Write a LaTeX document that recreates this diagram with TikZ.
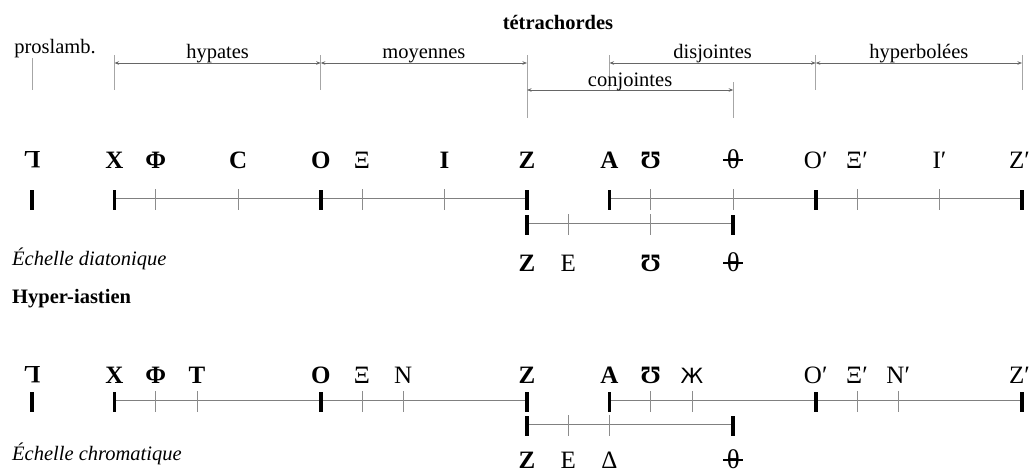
\documentclass[tikz,border=0pt]{standalone}
\usepackage{fontspec}
\usepackage{graphicx}
\setmainfont{Liberation Serif}
\newfontfamily\dejavu{DejaVu Sans}
\usetikzlibrary{arrows.meta,calc}
\newcommand{\thbar}{\ooalign{\hfil{\fontsize{27}{30}\selectfont θ}\hfil\cr\hfil\rule[0.3em]{0.8em}{0.055em}\hfil\cr}}
\newcommand{\prosl}{\rotatebox[origin=c]{180}{L}}
\newcommand{\zhe}{{\dejavu\fontsize{21}{24}\selectfont Ж}}
\begin{document}
\begin{tikzpicture}[x=1pt,y=-1pt,
  lab/.style={font=\fontsize{20.5}{24}\selectfont, anchor=base, inner sep=0pt},
  labb/.style={font=\fontsize{20.5}{24}\selectfont\bfseries, anchor=base, inner sep=0pt},
  labi/.style={font=\fontsize{20.5}{24}\selectfont\itshape, anchor=base west, inner sep=0pt},
  nb/.style={font=\fontsize{25}{29}\selectfont\bfseries, anchor=base, inner sep=0pt},
  nr/.style={font=\fontsize{25}{29}\selectfont, anchor=base, inner sep=0pt},
  scaleline/.style={draw=black!50, line width=0.8pt},
  majtick/.style={draw=black, line width=3.6pt},
  mintick/.style={draw=black!45, line width=0.7pt},
  brtick/.style={draw=black!35, line width=0.7pt},
  dimarrow/.style={draw=black!60, line width=0.7pt, {Stealth[length=4.5pt,width=3.5pt]}-{Stealth[length=4.5pt,width=3.5pt]}}
]
\useasboundingbox (0,0) rectangle (1029,472);

% ---------- top brackets ----------
\node[labb] (tetra) at (558,29) {tétrachordes};
\node[lab] (prosl) at (55,53) {proslamb.};
\foreach \n in {0,2,7,12,14,17,19,24} {
  \coordinate (a\n) at ({32+\n*41.25},63);
  \coordinate (b\n) at ({32+\n*41.25},90);
}
\foreach \n in {2,7,12,14,19,24} \coordinate (u\n) at ({32+\n*41.25},55);
\coordinate (u0) at (32,58);
\coordinate (u17) at ({32+17*41.25},82);
\coordinate (w12) at ({32+12*41.25},118);
\coordinate (w17) at ({32+17*41.25},118);
\draw[brtick] (u0) -- (b0);
\foreach \n in {2,7,14,19,24} \draw[brtick] (u\n) -- (b\n);
\draw[brtick] (u12) -- (w12);
\draw[brtick] (u17) -- (w17);
\draw[dimarrow] (a2) -- (a7);
\draw[dimarrow] (a7) -- (a12);
\draw[dimarrow] (a14) -- (a19);
\draw[dimarrow] (a19) -- (a24);
\draw[dimarrow] (b12) -- (b17);
\node[lab] (hyp) at ($(a2)!0.5!(a7)+(0,-5)$) {hypates};
\node[lab] (moy) at ($(a7)!0.5!(a12)+(0,-5)$) {moyennes};
\node[lab] (dis) at ($(a14)!0.5!(a19)+(0,-5)$) {disjointes};
\node[lab] (hyb) at ($(a19)!0.5!(a24)+(0,-5)$) {hyperbolées};
\node[lab] (con) at ($(b12)!0.5!(b17)+(0,-4)$) {conjointes};

% ---------- diatonic scale ----------
\foreach \n in {0,...,24} {
  \coordinate (d\n) at ({32+\n*41.25},198);
  \coordinate (c\n) at ({32+\n*41.25},223);
  \coordinate (h\n) at ({32+\n*41.25},400);
  \coordinate (k\n) at ({32+\n*41.25},424);
}
\draw[scaleline] (d2) -- (d12);
\draw[scaleline] (d14) -- (d24);
\draw[scaleline] (c12) -- (c17);
\foreach \n in {3,5,8,10,15,17,20,22} \draw[mintick] ([yshift=9pt]d\n) -- ([yshift=-12pt]d\n);
\foreach \n in {0,2,7,12,14,19,24} \draw[majtick] ([yshift=8pt]d\n) -- ([yshift=-12pt]d\n);
\foreach \n in {13,15} \draw[mintick] ([yshift=9pt]c\n) -- ([yshift=-12pt]c\n);
\foreach \n in {12,17} \draw[majtick] ([yshift=8pt]c\n) -- ([yshift=-12pt]c\n);

\foreach \n/\s/\t in {0/nb/\prosl, 2/nb/X, 3/nb/Φ, 5/nb/C, 7/nb/O, 8/nr/Ξ, 10/nb/I, 12/nb/Z,
  14/nb/A, 15/nb/Ʊ, 17/nr/\thbar, 19/nr/O′, 20/nr/Ξ′, 22/nr/I′}
  \node[\s] (dt\n) at ({32+\n*41.25},168) {\t};
\node[nr, anchor=base east] (dt24) at (1030,168) {Z′};
\foreach \n/\s/\t in {12/nb/Z, 13/nr/E, 15/nb/Ʊ, 17/nr/\thbar}
  \node[\s] (db\n) at ({32+\n*41.25},271) {\t};

\node[labi] (diat) at (12,265) {Échelle diatonique};
\node[labb, anchor=base west] (hyper) at (12,303) {Hyper-iastien};

% ---------- chromatic scale ----------
\draw[scaleline] (h2) -- (h12);
\draw[scaleline] (h14) -- (h24);
\draw[scaleline] (k12) -- (k17);
\foreach \n in {3,4,8,9,15,16,20,21} \draw[mintick] ([yshift=9pt]h\n) -- ([yshift=-12pt]h\n);
\foreach \n in {0,2,7,12,14,19,24} \draw[majtick] ([yshift=8pt]h\n) -- ([yshift=-12pt]h\n);
\foreach \n in {13,14} \draw[mintick] ([yshift=9pt]k\n) -- ([yshift=-12pt]k\n);
\foreach \n in {12,17} \draw[majtick] ([yshift=8pt]k\n) -- ([yshift=-12pt]k\n);

\foreach \n/\s/\t in {0/nb/\prosl, 2/nb/X, 3/nb/Φ, 4/nb/T, 7/nb/O, 8/nr/Ξ, 9/nr/N, 12/nb/Z,
  14/nb/A, 15/nb/Ʊ, 16/nr/\zhe, 19/nr/O′, 20/nr/Ξ′, 21/nr/N′}
  \node[\s] (ct\n) at ({32+\n*41.25},383) {\t};
\node[nr, anchor=base east] (ct24) at (1030,383) {Z′};
\foreach \n/\s/\t in {12/nb/Z, 13/nr/E, 14/nr/Δ, 17/nr/\thbar}
  \node[\s] (cb\n) at ({32+\n*41.25},468) {\t};

\node[labi] (chrom) at (12,460) {Échelle chromatique};
\end{tikzpicture}
\end{document}
